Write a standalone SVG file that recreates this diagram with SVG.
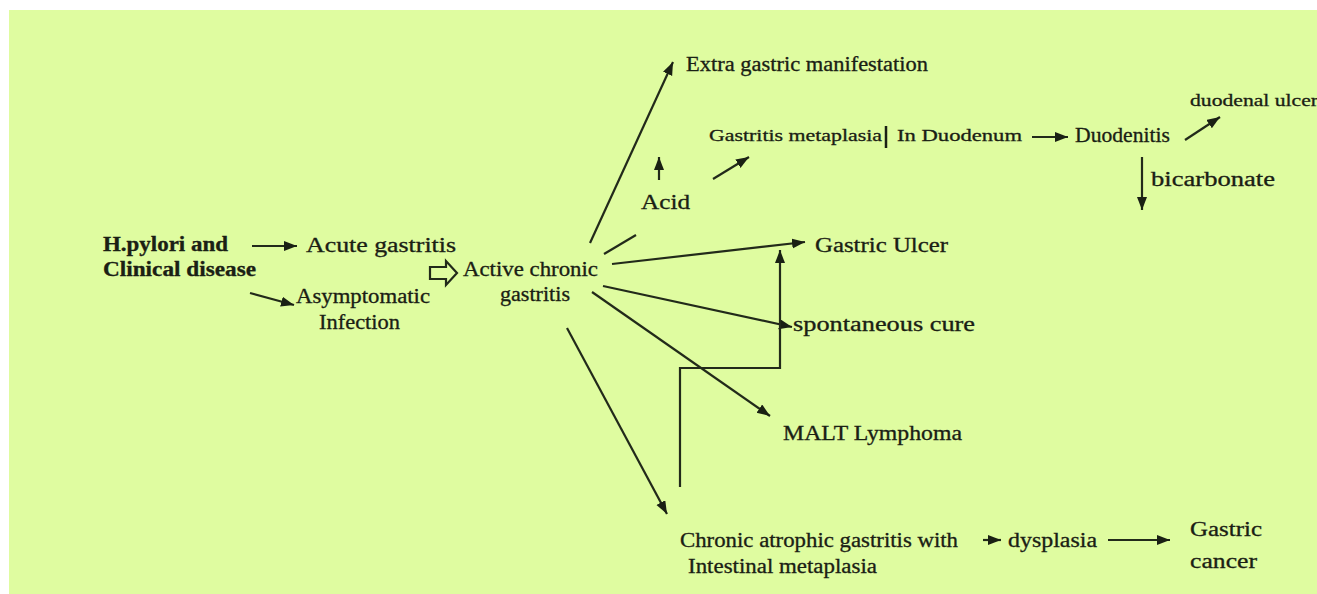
<svg xmlns="http://www.w3.org/2000/svg" width="1317" height="594" viewBox="0 0 1317 594">
<style>
text{font-family:'Liberation Serif','Times New Roman',Times,serif;fill:#1a2014;font-size:20px;stroke:#1a2014;stroke-width:0.3}
.b{font-weight:bold}
.s{font-size:17px}
.c{stroke:#222a1a;stroke-width:2.2;fill:none}
</style>
<defs>
<marker id="ah" markerUnits="userSpaceOnUse" markerWidth="14" markerHeight="12" refX="13" refY="5" orient="auto">
<path d="M0,0 L13,5 L0,10 Z" fill="#1a2014"/>
</marker>
</defs>
<rect x="0" y="0" width="1317" height="594" fill="#ffffff"/>
<rect x="9" y="10" width="1308" height="584" fill="#dffca0"/>
<g id="connectors">
<line class="c" x1="252" y1="246" x2="297" y2="246" marker-end="url(#ah)"/>
<line class="c" x1="250" y1="293" x2="294" y2="305" marker-end="url(#ah)"/>
<path class="c" d="M430,267 H446 V261 L457,273 L446,285 V279 H430 Z"/>
<line class="c" x1="590" y1="243" x2="673" y2="62" marker-end="url(#ah)"/>
<line class="c" x1="604" y1="254" x2="636" y2="235"/>
<line class="c" x1="612" y1="264" x2="805" y2="242" marker-end="url(#ah)"/>
<line class="c" x1="603" y1="286" x2="792" y2="327" marker-end="url(#ah)"/>
<line class="c" x1="592" y1="292" x2="770" y2="416" marker-end="url(#ah)"/>
<line class="c" x1="567" y1="328" x2="667" y2="514" marker-end="url(#ah)"/>
<polyline class="c" points="680,487 680,368 780,368 780,250" marker-end="url(#ah)"/>
<line class="c" x1="659" y1="180" x2="659" y2="157" marker-end="url(#ah)"/>
<line class="c" x1="713" y1="179" x2="749" y2="157" marker-end="url(#ah)"/>
<line x1="886" y1="126" x2="886" y2="148" stroke="#1a2014" stroke-width="2.5"/>
<line class="c" x1="1032" y1="137" x2="1068" y2="137" marker-end="url(#ah)"/>
<line class="c" x1="1185" y1="140" x2="1220" y2="117" marker-end="url(#ah)"/>
<line class="c" x1="1142" y1="157" x2="1142" y2="210" marker-end="url(#ah)"/>
<line class="c" x1="983" y1="540" x2="1001" y2="540" marker-end="url(#ah)"/>
<line class="c" x1="1108" y1="540" x2="1170" y2="540" marker-end="url(#ah)"/>
</g>
<g id="n-hpylori"><text class="b" x="103" y="251" textLength="125" lengthAdjust="spacingAndGlyphs">H.pylori and</text><text class="b" x="103" y="276" textLength="153" lengthAdjust="spacingAndGlyphs">Clinical disease</text></g>
<g id="n-acute"><text x="306" y="252" textLength="150" lengthAdjust="spacingAndGlyphs">Acute gastritis</text></g>
<g id="n-asym"><text x="296" y="303" textLength="134" lengthAdjust="spacingAndGlyphs">Asymptomatic</text><text x="319" y="329" textLength="81" lengthAdjust="spacingAndGlyphs">Infection</text></g>
<g id="n-active"><text x="463" y="276" textLength="135" lengthAdjust="spacingAndGlyphs">Active chronic</text><text x="500" y="301" textLength="70" lengthAdjust="spacingAndGlyphs">gastritis</text></g>
<g id="n-extra"><text x="686" y="71" textLength="242" lengthAdjust="spacingAndGlyphs">Extra gastric manifestation</text></g>
<g id="n-acid"><text x="641" y="209" textLength="49" lengthAdjust="spacingAndGlyphs">Acid</text></g>
<g id="n-metaplasia"><text class="s" x="709" y="141" textLength="173" lengthAdjust="spacingAndGlyphs">Gastritis metaplasia</text><text class="s" x="897" y="141" textLength="125" lengthAdjust="spacingAndGlyphs">In Duodenum</text></g>
<g id="n-duodenitis"><text x="1075" y="142" textLength="95" lengthAdjust="spacingAndGlyphs">Duodenitis</text></g>
<g id="n-duodenal"><text class="s" x="1190" y="106" textLength="128" lengthAdjust="spacingAndGlyphs">duodenal ulcer</text></g>
<g id="n-bicarb"><text x="1151" y="186" textLength="124" lengthAdjust="spacingAndGlyphs">bicarbonate</text></g>
<g id="n-ulcer"><text x="815" y="252" textLength="133" lengthAdjust="spacingAndGlyphs">Gastric Ulcer</text></g>
<g id="n-cure"><text x="793" y="331" textLength="182" lengthAdjust="spacingAndGlyphs">spontaneous cure</text></g>
<g id="n-malt"><text x="783" y="440" textLength="179" lengthAdjust="spacingAndGlyphs">MALT Lymphoma</text></g>
<g id="n-atrophic"><text x="680" y="547" textLength="278" lengthAdjust="spacingAndGlyphs">Chronic atrophic gastritis with</text><text x="688" y="573" textLength="189" lengthAdjust="spacingAndGlyphs">Intestinal metaplasia</text></g>
<g id="n-dysplasia"><text x="1008" y="547" textLength="89" lengthAdjust="spacingAndGlyphs">dysplasia</text></g>
<g id="n-cancer"><text x="1190" y="536" textLength="72" lengthAdjust="spacingAndGlyphs">Gastric</text><text x="1190" y="568" textLength="67" lengthAdjust="spacingAndGlyphs">cancer</text></g>
</svg>
